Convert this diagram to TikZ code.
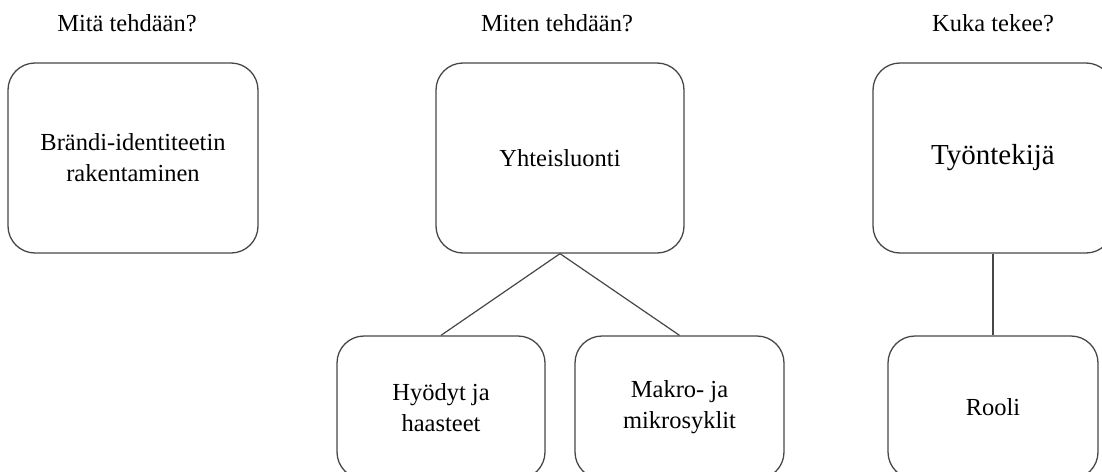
\documentclass[tikz,border=0pt]{standalone}
\usepackage{fontspec}
\setmainfont{Liberation Serif}
\begin{document}
\begin{tikzpicture}[x=1pt,y=-1pt,
  box/.style={draw=black!72, line width=1.3pt, rounded corners=27pt,
    rectangle, inner sep=0pt, align=center, fill=white,
    font=\fontsize{24.5}{31}\selectfont},
  heading/.style={anchor=base, inner sep=0pt, font=\fontsize{24.5}{31}\selectfont},
  link/.style={draw=black!72, line width=1.2pt}]
\useasboundingbox (0,0) rectangle (1102,471);
\clip (0,0) rectangle (1102,471);

% column headings
\node[heading] (h1) at (127,31) {Mitä tehdään?};
\node[heading] (h2) at (557,31) {Miten tehdään?};
\node[heading] (h3) at (993,31) {Kuka tekee?};

% top row
\node[box, minimum width=250pt, minimum height=190pt] (brand) at (133,158)
  {Brändi-identiteetin\\rakentaminen};
\node[box, minimum width=248pt, minimum height=190pt] (co) at (560,158)
  {Yhteisluonti};
\node[box, minimum width=240pt, minimum height=190pt,
  font=\fontsize{29}{34}\selectfont] (emp) at (993,158) {Työntekijä};

% bottom row
\node[box, minimum width=208pt, minimum height=143pt] (ben) at (441,407.5)
  {Hyödyt ja\\haasteet};
\node[box, minimum width=209pt, minimum height=143pt] (cyc) at (679.5,407.5)
  {Makro- ja\\mikrosyklit};
\node[box, minimum width=210pt, minimum height=143pt] (role) at (993,407.5)
  {Rooli};

% connectors
\draw[link] (co.south) -- (ben.north);
\draw[link] (co.south) -- (cyc.north);
\draw[link] (emp.south) -- (role.north);
\end{tikzpicture}
\end{document}
